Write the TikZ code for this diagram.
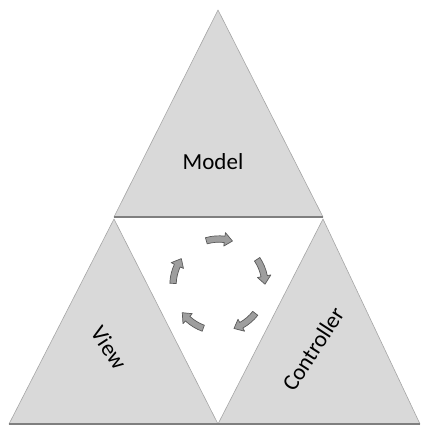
\documentclass[tikz,border=0pt]{standalone}
\usepackage{fontspec}
\setmainfont{Carlito}
\definecolor{triFill}{HTML}{D9D9D9}
\definecolor{triEdge}{HTML}{A6A6A6}
\definecolor{baseEdge}{HTML}{7F7F7F}
\definecolor{cycFill}{HTML}{9E9E9E}
\definecolor{cycEdge}{HTML}{5A5A5A}

\begin{document}
\begin{tikzpicture}[x=1pt, y=-1pt,
    tri/.style={fill=triFill, draw=triEdge, line width=0.6pt, line join=round},
    baseedge/.style={draw=baseEdge, line width=2pt},
    lbl/.style={font=\fontsize{23}{26}\selectfont, text=black, inner sep=0pt},
    cyc/.style={fill=cycFill, draw=cycEdge, line width=0.7pt, line join=round}]
    \useasboundingbox (0,0) rectangle (421,426);
    \pgfmathsetmacro{\R}{46}  % radius of the cycle
    \pgfmathsetmacro{\w}{3.2}  % half width of an arrow body
    \pgfmathsetmacro{\h}{6.8}  % half width of an arrow head
    % corners of the three triangles
    \coordinate (MTop) at (218,10);
    \coordinate (MLeft) at (114,217);
    \coordinate (MRight) at (323,217);
    \coordinate (VTop) at (114,219);
    \coordinate (VLeft) at (9,424);
    \coordinate (VRight) at (218,424);
    \coordinate (CTop) at (323,219);
    \coordinate (CLeft) at (218,424);
    \coordinate (CRight) at (420,424);
    \draw[tri] (MTop) -- (MRight) -- (MLeft) -- cycle;
    \draw[tri] (VTop) -- (VRight) -- (VLeft) -- cycle;
    \draw[tri] (CTop) -- (CRight) -- (CLeft) -- cycle;
    \draw[baseedge] (MLeft) -- (MRight);
    \draw[baseedge] (VLeft) -- (CRight);
    \node[lbl] (model) at (213,162) {Model};
    \node[lbl, rotate=-57] (view) at (109,348) {View};
    \node[lbl, rotate=57] (controller) at (313,349) {Controller};
    % the cycle of arrows, clockwise
    \begin{scope}[shift={(219,285)}, yscale=-1]
      \foreach \a in {90,18,-54,-126,-198} {
        \draw[cyc] (\a+16:\R+\w) arc (\a+16:\a-7:\R+\w) -- (\a-7:\R+\h)
          -- (\a-17:\R) -- (\a-7:\R-\h) -- (\a-7:\R-\w)
          arc (\a-7:\a+16:\R-\w) -- cycle;
      }
    \end{scope}
\end{tikzpicture}
\end{document}
